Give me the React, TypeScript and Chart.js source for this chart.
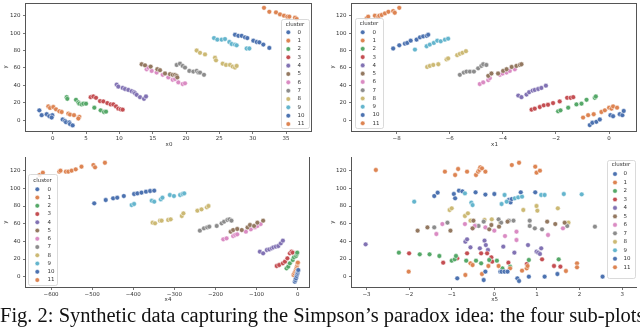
import React, { useEffect, useRef } from "react";
import { Chart, registerables } from "chart.js";
Chart.register(...registerables);

const CLUSTERS = ["0", "1", "2", "3", "4", "5", "6", "7", "8", "9", "10", "11"];
const COLORS = ["#4c72b0", "#dd8452", "#55a868", "#c44e52", "#8172b3", "#937860", "#da8bc3", "#8c8c8c", "#ccb974", "#64b5cd", "#4c72b0", "#dd8452"];

const Y_TICKS = [0, 20, 40, 60, 80, 100, 120];
const X0_TICKS = [0, 5, 10, 15, 20, 25, 30, 35];
const X1_TICKS = [-8, -6, -4, -2, 0];
const X4_TICKS = [-600, -500, -400, -300, -200, -100, 0];
const X5_TICKS = [-3, -2, -1, 0, 1, 2, 3];

// Panel A: x0 vs y
const A_X = [
  [-2.0, -1.65, -0.9, -0.5, -0.05, -0.15, 1.5, 1.85, 2.0, 2.5, 2.6, 3.0],
  [-0.65, -0.4, 0.1, 0.5, 1.0, 1.35, 2.35, 2.6, 3.2, 4.0, 3.85],
  [2.1, 2.2, 3.5, 3.85, 4.0, 4.35, 4.6, 5.0, 6.25, 7.2, 7.7, 8.0],
  [5.7, 6.1, 6.5, 7.1, 7.6, 8.2, 8.7, 9.1, 9.5, 9.85, 10.2, 10.5],
  [9.6, 9.85, 10.5, 10.85, 11.35, 11.85, 12.2, 12.35, 12.6, 13.1, 13.7, 14.0],
  [13.35, 13.85, 14.7, 15.7, 16.1, 16.85, 17.6, 18.0, 18.35, 18.6, 18.7],
  [14.1, 14.35, 14.85, 15.6, 16.5, 17.35, 18.0, 18.35, 18.85, 19.5, 19.85],
  [18.6, 19.1, 19.5, 19.85, 20.5, 21.1, 21.6, 21.85, 22.1, 22.7],
  [21.6, 22.1, 22.85, 24.35, 24.5, 25.5, 26.0, 26.6, 27.0, 27.35, 27.6],
  [24.2, 24.7, 25.35, 25.85, 26.5, 26.85, 27.35, 27.6, 29.1, 29.5],
  [27.35, 27.85, 28.35, 28.85, 29.2, 30.1, 30.6, 31.0, 31.6, 32.5],
  [31.7, 32.5, 33.5, 34.1, 34.7, 35.2, 35.5, 36.35, 36.6],
];
const A_Y = [
  [11.3, 5.7, 6.8, 4.5, 5.7, 3.0, 0.75, -0.75, -2.3, -2.6, -4.5, -6.0],
  [15.8, 14, 15.1, 12.5, 10.2, 9.4, 7.5, 6.4, 5.7, 3.8, 1.9],
  [26.4, 24.5, 23.4, 20.4, 18.9, 18.1, 18.9, 18.9, 14.3, 11.3, 9.4, 9.8],
  [26.4, 27.2, 25.7, 21.9, 21.5, 19.6, 18.1, 18.1, 15.8, 13.2, 12.5, 12.1],
  [40.8, 38.5, 37, 35.8, 34.7, 33.2, 32.1, 30.9, 29.1, 26.4, 24.5, 27.2],
  [64.2, 63, 61.5, 58.5, 57.4, 53.6, 52.8, 52.1, 52.1, 50.9, 49.1],
  [58.5, 60.4, 56.6, 54.7, 52.1, 49.1, 46.4, 47.2, 43.4, 41.5, 42.3],
  [63.4, 64.9, 62.3, 60.4, 56.6, 55.8, 56.6, 54.7, 54.7, 52.1],
  [80, 77.4, 75.5, 71.7, 68.7, 64.9, 63.4, 63.4, 61.5, 60.4, 62.3],
  [94.3, 92.5, 92.5, 93.2, 89.8, 87.5, 86.8, 86, 82.3, 82.3],
  [98.1, 96.9, 96.9, 95.1, 94.3, 91.3, 89.8, 89.4, 86.8, 83],
  [129, 124.5, 123.8, 121.5, 120, 118.9, 118.9, 117.7, 116.2],
];

// Panel B: x1 vs y
const B_X = [
  [-0.73, -0.63, -0.48, -0.35, 0.05, 0.15, 0.4, 0.5, 0.55],
  [-0.98, -0.79, -0.58, -0.29, -0.16, 0, 0.09, 0.15, 0.3],
  [-1.92, -1.83, -1.54, -1.23, -1.04, -0.85, -0.54, -0.5],
  [-2.92, -2.8, -2.61, -2.46, -2.3, -2.11, -1.86, -1.58, -1.45, -1.35],
  [-3.42, -3.3, -3.11, -3.01, -2.88, -2.8, -2.67, -2.55, -2.38],
  [-4.55, -4.43, -4.18, -3.99, -3.86, -3.67, -3.49, -3.36, -3.3],
  [-4.87, -4.74, -4.55, -4.49, -4.11, -4.01, -3.86, -3.74, -3.55],
  [-5.62, -5.47, -5.37, -5.24, -5.09, -4.93, -4.81, -4.74, -4.62],
  [-6.85, -6.75, -6.62, -6.43, -6.12, -6.06, -5.72, -5.62, -5.52, -5.39],
  [-7.31, -6.87, -6.75, -6.6, -6.47, -6.34, -6.18, -6.06],
  [-8.13, -7.9, -7.69, -7.6, -7.47, -7.25, -7.12, -7.0, -6.87, -6.81],
  [-9.13, -9.07, -8.82, -8.69, -8.65, -8.56, -8.44, -8.31, -8.13, -8.07, -7.9],
];
const B_Y = [
  [-5.7, -3, -1.9, 0.75, 5.7, 4.5, 6.8, 5.7, 10.6],
  [3, 5.7, 6.8, 9.4, 11.3, 14.3, 13.2, 15.8, 14.3],
  [10.2, 11.3, 14.3, 18.1, 18.9, 23.4, 25.7, 27.2],
  [12.1, 13.2, 15.1, 17, 17.7, 19.6, 21.5, 25.7, 25.7, 26.4],
  [28.3, 26.4, 29.4, 32.1, 34, 34.7, 35.8, 37, 39.6],
  [50.9, 53.6, 53.6, 56.6, 58.5, 61.1, 62.3, 63.4, 64.2],
  [41.5, 43.4, 46, 48.3, 52.1, 53.6, 54.7, 56.6, 58.5],
  [52.1, 54.7, 55.8, 55.8, 55.8, 59.6, 62.3, 64.2, 63.4],
  [61.1, 62.3, 63.4, 64.2, 69.8, 70.9, 74.7, 76.2, 77.4, 79.2],
  [81.1, 84.9, 86.8, 88.7, 91.3, 90.6, 92.5, 93.6],
  [82.3, 86, 87.9, 88.7, 91.3, 92.5, 95.1, 96.2, 96.9, 98.1],
  [117, 118.9, 120, 118.9, 120, 120.8, 122.6, 124.5, 125.3, 123.4, 129],
];

// Panel C: x4 vs y
const C_X = [
  [-7, -5.5, -4, -2.5, -1, 0, 1, 1.5],
  [-10, -8, -6, -4.5, -3, -2, -1, 0, 0.5],
  [-27, -23, -19, -12, -9, -4, -2, -1],
  [-51, -45, -36, -31, -25, -19, -15, -12],
  [-92, -84, -75, -69, -63, -59, -53, -47, -41, -36],
  [-163, -157, -147, -136, -122, -116, -106, -98, -84],
  [-181, -173, -157, -152, -147, -126, -114, -104, -98, -90],
  [-238, -228, -220, -215, -197, -185, -179, -171, -166, -161],
  [-353, -347, -335, -331, -315, -309, -282, -278, -244, -234, -221, -217],
  [-404, -398, -355, -349, -333, -329, -311, -301, -286, -280, -276],
  [-495, -467, -449, -439, -423, -398, -390, -380, -369, -359, -349],
  [-628, -620, -580, -577, -564, -558, -550, -540, -526, -497, -493, -469],
];
const C_Y = [
  [-5.7, -3.8, -1.9, 0.75, 3, 4.5, 6.4, 7.5],
  [1.9, 3.8, 5.7, 7.5, 9.4, 11.3, 13.2, 15.1, 16],
  [9.4, 11.3, 15.1, 18.9, 21.9, 23.4, 25.7, 27.2],
  [12.1, 13.2, 15.1, 17, 20.8, 26.4, 28.3, 27.2],
  [28.3, 26.4, 30.2, 30.9, 32.1, 33.2, 34, 34.7, 37.7, 40.8],
  [50.9, 52.8, 54, 52.8, 55.8, 58.5, 57.4, 61.1, 63.4],
  [42.3, 43.4, 46, 47.2, 47.9, 50.9, 53.6, 55.8, 57.4, 59.6],
  [52.1, 54.7, 55.8, 56.6, 57.4, 60.4, 62.3, 64.2, 64.9, 63.4],
  [61.1, 60.4, 63.4, 63.4, 64.2, 64.9, 68.7, 71.7, 74.7, 76.2, 78.5, 80],
  [81.1, 82.3, 86, 84.9, 87.5, 89.4, 92.5, 91.3, 92.5, 93.6, 94.3],
  [83, 86.8, 88.7, 89.4, 91.3, 93.6, 94.3, 95.1, 96.2, 97, 97.4],
  [115, 117.7, 118.9, 120, 118.9, 118.9, 120, 121.5, 124.5, 126.4, 123.8, 129],
];

// Panel D: x5 vs y
const D_X = [
  [-0.87, -0.25, -0.21, 0.14, 0.17, 0.24, 0.31, 0.54, 0.58, 0.81, 1.18, 1.48, 2.54],
  [-2.01, -0.68, -0.29, -0.56, -0.51, -0.14, 0.10, 0.37, 0.65, 0.76, 0.78, 1.68, 1.94, 1.94],
  [-2.24, -1.75, -1.52, -1.29, -1.0, -0.93, -0.9, -0.66, -0.43, -0.31, -0.12, 0.06, 0.19, 0.37, 0.81, 1.51],
  [-2.0, -1.2, -0.87, -0.64, -0.31, -0.17, -0.07, -0.05, 0.33, 0.76, 1.12, 1.40, 1.55],
  [-3.02, -0.68, -0.64, -0.56, -0.34, -0.23, -0.2, -0.15, 0.21, 0.47, 0.79, 0.99, 1.03, 1.07, 1.1],
  [-1.8, -1.57, -1.03, -0.51, -0.49, -0.12, -0.07, 0.11, 0.31, 1.24, 1.43, 1.65],
  [-1.36, -1.22, -0.69, -0.51, -0.46, -0.21, 0.0, 0.25, 0.52, 0.52, 1.26, 1.61],
  [-1.41, -1.1, -0.44, -0.37, -0.25, 0.1, 0.16, 0.34, 0.45, 0.83, 0.83, 0.95, 1.12, 1.71, 2.36],
  [-1.05, -1.0, -0.69, -0.62, -0.56, -0.23, -0.06, 0.14, 0.68, 0.99, 1.01, 1.49, 1.74],
  [-1.88, -0.69, -0.54, -0.51, 0.17, 0.24, 0.29, 0.48, 0.56, 0.65, 1.1, 1.18, 1.63, 2.05],
  [-1.41, -1.33, -0.95, -0.92, -0.83, -0.75, -0.44, -0.21, 0.0, 0.34, 0.38, 0.41, 0.62, 0.96],
  [-2.78, -1.16, -0.92, -0.85, -0.64, -0.43, -0.38, -0.35, -0.33, -0.29, -0.21, 0.41, 0.58, 0.96, 0.99, 1.07],
];
const D_Y = [
  [-1.9, -3.8, 5.7, 5.7, 5.7, 5.7, 5.7, -1.9, -4.9, 0, 0, 3, 0],
  [5.7, 1.9, 3.0, 15.1, 13.2, 12.1, 12.1, 9.4, 6.8, 9.4, 12.1, 6.4, 15.1, 10.6],
  [27.2, 25.3, 25.3, 23.4, 18.1, 19.6, 23.4, 18.1, 18.1, 15.1, 18.9, 18.1, 9.4, 11.3, 18.9, 19.6],
  [26.4, 15.8, 20.8, 26.4, 26.4, 26.4, 21.9, 17, 15.8, 14.3, 19.6, 12.1, 11.3],
  [36.6, 39.6, 42.3, 33.2, 32.1, 40.8, 35.8, 30.2, 34, 27.2, 35.8, 28.3, 27.2, 25.7, 32.1],
  [52.1, 55.8, 52.1, 54.7, 63.4, 53.6, 58.5, 56.6, 62.3, 62.3, 59.6, 61.1],
  [48.3, 59.6, 59.6, 54.7, 57.4, 55.8, 52.1, 46, 50.9, 41.5, 47.2, 54.7],
  [55.8, 61.1, 57.4, 57.4, 62.3, 64.9, 61.1, 63.4, 63.4, 63.4, 57.4, 54.7, 53.6, 57.4, 56.6],
  [75.5, 77.4, 68.7, 71.7, 63.4, 64.2, 64.9, 61.1, 75.5, 80, 74.7, 77.4, 61.1],
  [84.9, 94.3, 83.8, 81.1, 82.3, 92.5, 84.9, 88.7, 89.8, 90.6, 92.5, 92.5, 93.6, 93.2],
  [91.3, 95.1, 93.6, 88.7, 97.4, 96.6, 95.5, 92.9, 93.6, 86.8, 84.1, 87.9, 95.5, 95.5],
  [120.8, 118.9, 115.1, 121.9, 118.9, 115.1, 118.9, 120.8, 123.8, 122.6, 118.9, 126.4, 129, 124.5, 117.7, 120],
];

const FONT = "'DejaVu Sans', sans-serif";
const TICK_COLOR = "#333";
const SPINE_COLOR = "#555";

const framePlugin = {
  id: "frame",
  afterDatasetsDraw(chart: any, _args: any, opts: any) {
    const { ctx, chartArea: a } = chart;
    const s: string = opts.sides || "lbrt";
    ctx.save();
    ctx.strokeStyle = SPINE_COLOR;
    ctx.lineWidth = 1;
    ctx.beginPath();
    const l = Math.round(a.left) - 0.5, r = Math.round(a.right) - 0.5;
    const t = Math.round(a.top) + 0.5, b = Math.round(a.bottom) + 0.5;
    if (s.includes("l")) { ctx.moveTo(l, t - 0.5); ctx.lineTo(l, b + 0.5); }
    if (s.includes("b")) { ctx.moveTo(l - 0.5, b); ctx.lineTo(r + 0.5, b); }
    if (s.includes("r")) { ctx.moveTo(r, t - 0.5); ctx.lineTo(r, b + 0.5); }
    if (s.includes("t")) { ctx.moveTo(l - 0.5, t); ctx.lineTo(r + 0.5, t); }
    ctx.stroke();
    ctx.restore();
  },
};

const boxLegendPlugin = {
  id: "boxLegend",
  afterDraw(chart: any, _args: any, o: any) {
    const { ctx } = chart;
    const [bx, by, bw, bh] = o.box;
    ctx.save();
    ctx.fillStyle = "rgba(255,255,255,0.85)";
    ctx.strokeStyle = "#d0d0d0";
    ctx.lineWidth = 0.8;
    ctx.beginPath();
    (ctx as any).roundRect ? ctx.roundRect(bx + 0.5, by + 0.5, bw, bh, 2) : ctx.rect(bx + 0.5, by + 0.5, bw, bh);
    ctx.fill();
    ctx.stroke();
    ctx.font = `5.5px ${FONT}`;
    ctx.fillStyle = TICK_COLOR;
    ctx.textBaseline = "middle";
    ctx.textAlign = "center";
    ctx.fillText("cluster", bx + bw / 2, o.titleY);
    ctx.textAlign = "left";
    chart.data.datasets.forEach((ds: any, i: number) => {
      const yy = o.firstY + i * o.step;
      ctx.beginPath();
      ctx.arc(o.markerX, yy, 2.3, 0, Math.PI * 2);
      ctx.fillStyle = ds.backgroundColor;
      ctx.fill();
      ctx.strokeStyle = "#fff";
      ctx.lineWidth = 0.5;
      ctx.stroke();
      ctx.fillStyle = TICK_COLOR;
      ctx.fillText(ds.label, o.labelX, yy);
    });
    ctx.restore();
  },
};

type PanelCfg = {
  left: number; top: number; w: number; h: number;
  area: [number, number, number, number];
  xs: number[][]; ys: number[][];
  xMin: number; xMax: number; yMin: number; yMax: number;
  xTicks: number[]; xLabel: string;
  sides: string;
  legend: any;
};

const PANELS: PanelCfg[] = [
  {
    left: 0, top: 0, w: 320, h: 152, area: [26, 1, 312, 131],
    xs: A_X, ys: A_Y, xMin: -4.0, xMax: 38.9, yMin: -12.45, yMax: 134.7,
    xTicks: X0_TICKS, xLabel: "x0", sides: "lbrt",
    legend: { box: [281, 19, 28, 109], titleY: 24.5, firstY: 32.3, step: 8.34, markerX: 288.3, labelX: 297.5 },
  },
  {
    left: 320, top: 0, w: 320, h: 152, area: [32, 1, 317, 131],
    xs: B_X, ys: B_Y, xMin: -9.68, xMax: 1.05, yMin: -12.45, yMax: 134.7,
    xTicks: X1_TICKS, xLabel: "x1", sides: "lbrt",
    legend: { box: [35, 18, 28, 110], titleY: 24, firstY: 32.3, step: 8.27, markerX: 42.7, labelX: 52.5 },
  },
  {
    left: 0, top: 152, w: 320, h: 155, area: [26, 5, 310, 135],
    xs: C_X, ys: C_Y, xMin: -661, xMax: 30, yMin: -11.7, yMax: 135.5,
    xTicks: X4_TICKS, xLabel: "x4", sides: "lbr",
    legend: { box: [28, 22, 29, 111], titleY: 28.7, firstY: 37.3, step: 8.25, markerX: 37.3, labelX: 47.5 },
  },
  {
    left: 320, top: 152, w: 320, h: 155, area: [32, 5, 320, 135],
    xs: D_X, ys: D_Y, xMin: -3.34, xMax: 3.35, yMin: -11.7, yMax: 135.5,
    xTicks: X5_TICKS, xLabel: "x5", sides: "lb",
    legend: { box: [287, 8, 28, 118], titleY: 13, firstY: 22, step: 8.48, markerX: 295, labelX: 303.5 },
  },
];

function Panel({ cfg }: { cfg: PanelCfg }) {
  const ref = useRef<HTMLCanvasElement>(null);
  useEffect(() => {
    const [aL, aT, aR, aB] = cfg.area;
    const datasets = CLUSTERS.map((name, i) => ({
      label: name,
      data: cfg.xs[i].map((x, j) => ({ x, y: cfg.ys[i][j] })),
      backgroundColor: COLORS[i],
      borderColor: "#ffffff",
      borderWidth: 0.5,
      pointRadius: 2.4,
      pointHoverRadius: 2.4,
    }));
    const tickFont = { family: FONT, size: 5.5 };
    const chart = new Chart(ref.current!, {
      type: "scatter",
      data: { datasets },
      options: {
        animation: false,
        responsive: false,
        devicePixelRatio: 1,
        events: [],
        layout: { padding: { left: 0, top: aT, right: cfg.w - aR, bottom: 0 } },
        plugins: {
          legend: { display: false },
          tooltip: { enabled: false },
          frame: { sides: cfg.sides },
          boxLegend: cfg.legend,
        } as any,
        scales: {
          x: {
            type: "linear",
            min: cfg.xMin,
            max: cfg.xMax,
            border: { display: false },
            grid: { display: true, drawOnChartArea: false, drawTicks: true, tickLength: 3, tickColor: SPINE_COLOR, lineWidth: 0.8 },
            ticks: { font: tickFont, color: TICK_COLOR, padding: 1.5, maxRotation: 0, autoSkip: false,
              callback: (v: any) => (Number(v) < 0 ? "\u2212" + Math.abs(Number(v)) : String(v)) },
            title: { display: true, text: cfg.xLabel, font: tickFont, color: TICK_COLOR, padding: { top: 0, bottom: 3.7 } },
            afterBuildTicks: (axis: any) => { axis.ticks = cfg.xTicks.map((v) => ({ value: v })); },
            afterFit: (axis: any) => {
              axis.height = cfg.h - aB;
              axis.paddingLeft = 0; axis.paddingRight = 0; axis.paddingTop = 0; axis.paddingBottom = 0;
            },
          },
          y: {
            type: "linear",
            min: cfg.yMin,
            max: cfg.yMax,
            border: { display: false },
            grid: { display: true, drawOnChartArea: false, drawTicks: true, tickLength: 3, tickColor: SPINE_COLOR, lineWidth: 0.8 },
            ticks: { font: tickFont, color: TICK_COLOR, padding: 2.5, autoSkip: false },
            title: { display: true, text: "y", font: tickFont, color: TICK_COLOR, padding: { top: aL === 26 ? 2.7 : 9.7, bottom: 0 } },
            afterBuildTicks: (axis: any) => { axis.ticks = Y_TICKS.map((v) => ({ value: v })); },
            afterFit: (axis: any) => {
              axis.width = aL;
              axis.paddingLeft = 0; axis.paddingRight = 0; axis.paddingTop = 0; axis.paddingBottom = 0;
            },
          },
        },
      } as any,
      plugins: [framePlugin, boxLegendPlugin] as any,
    });
    return () => chart.destroy();
  }, [cfg]);
  return (
    <canvas
      ref={ref}
      width={cfg.w}
      height={cfg.h}
      style={{ position: "absolute", left: cfg.left, top: cfg.top, width: cfg.w, height: cfg.h }}
    />
  );
}

const CAPTION = "Fig. 2: Synthetic data capturing the Simpson\u2019s paradox idea: the four sub-plots";

export default function App() {
  return (
    <div style={{ position: "fixed", left: 0, top: 0, width: 640, height: 327, background: "#fff", overflow: "hidden" }}>
      {PANELS.map((p, i) => (
        <Panel key={i} cfg={p} />
      ))}
      <div
        style={{
          position: "absolute",
          left: 0,
          top: 305,
          whiteSpace: "nowrap",
          fontFamily: "'Liberation Serif', 'Times New Roman', serif",
          fontSize: 20.5,
          lineHeight: "20.5px",
          color: "#111",
        }}
      >
        {CAPTION}
      </div>
    </div>
  );
}
